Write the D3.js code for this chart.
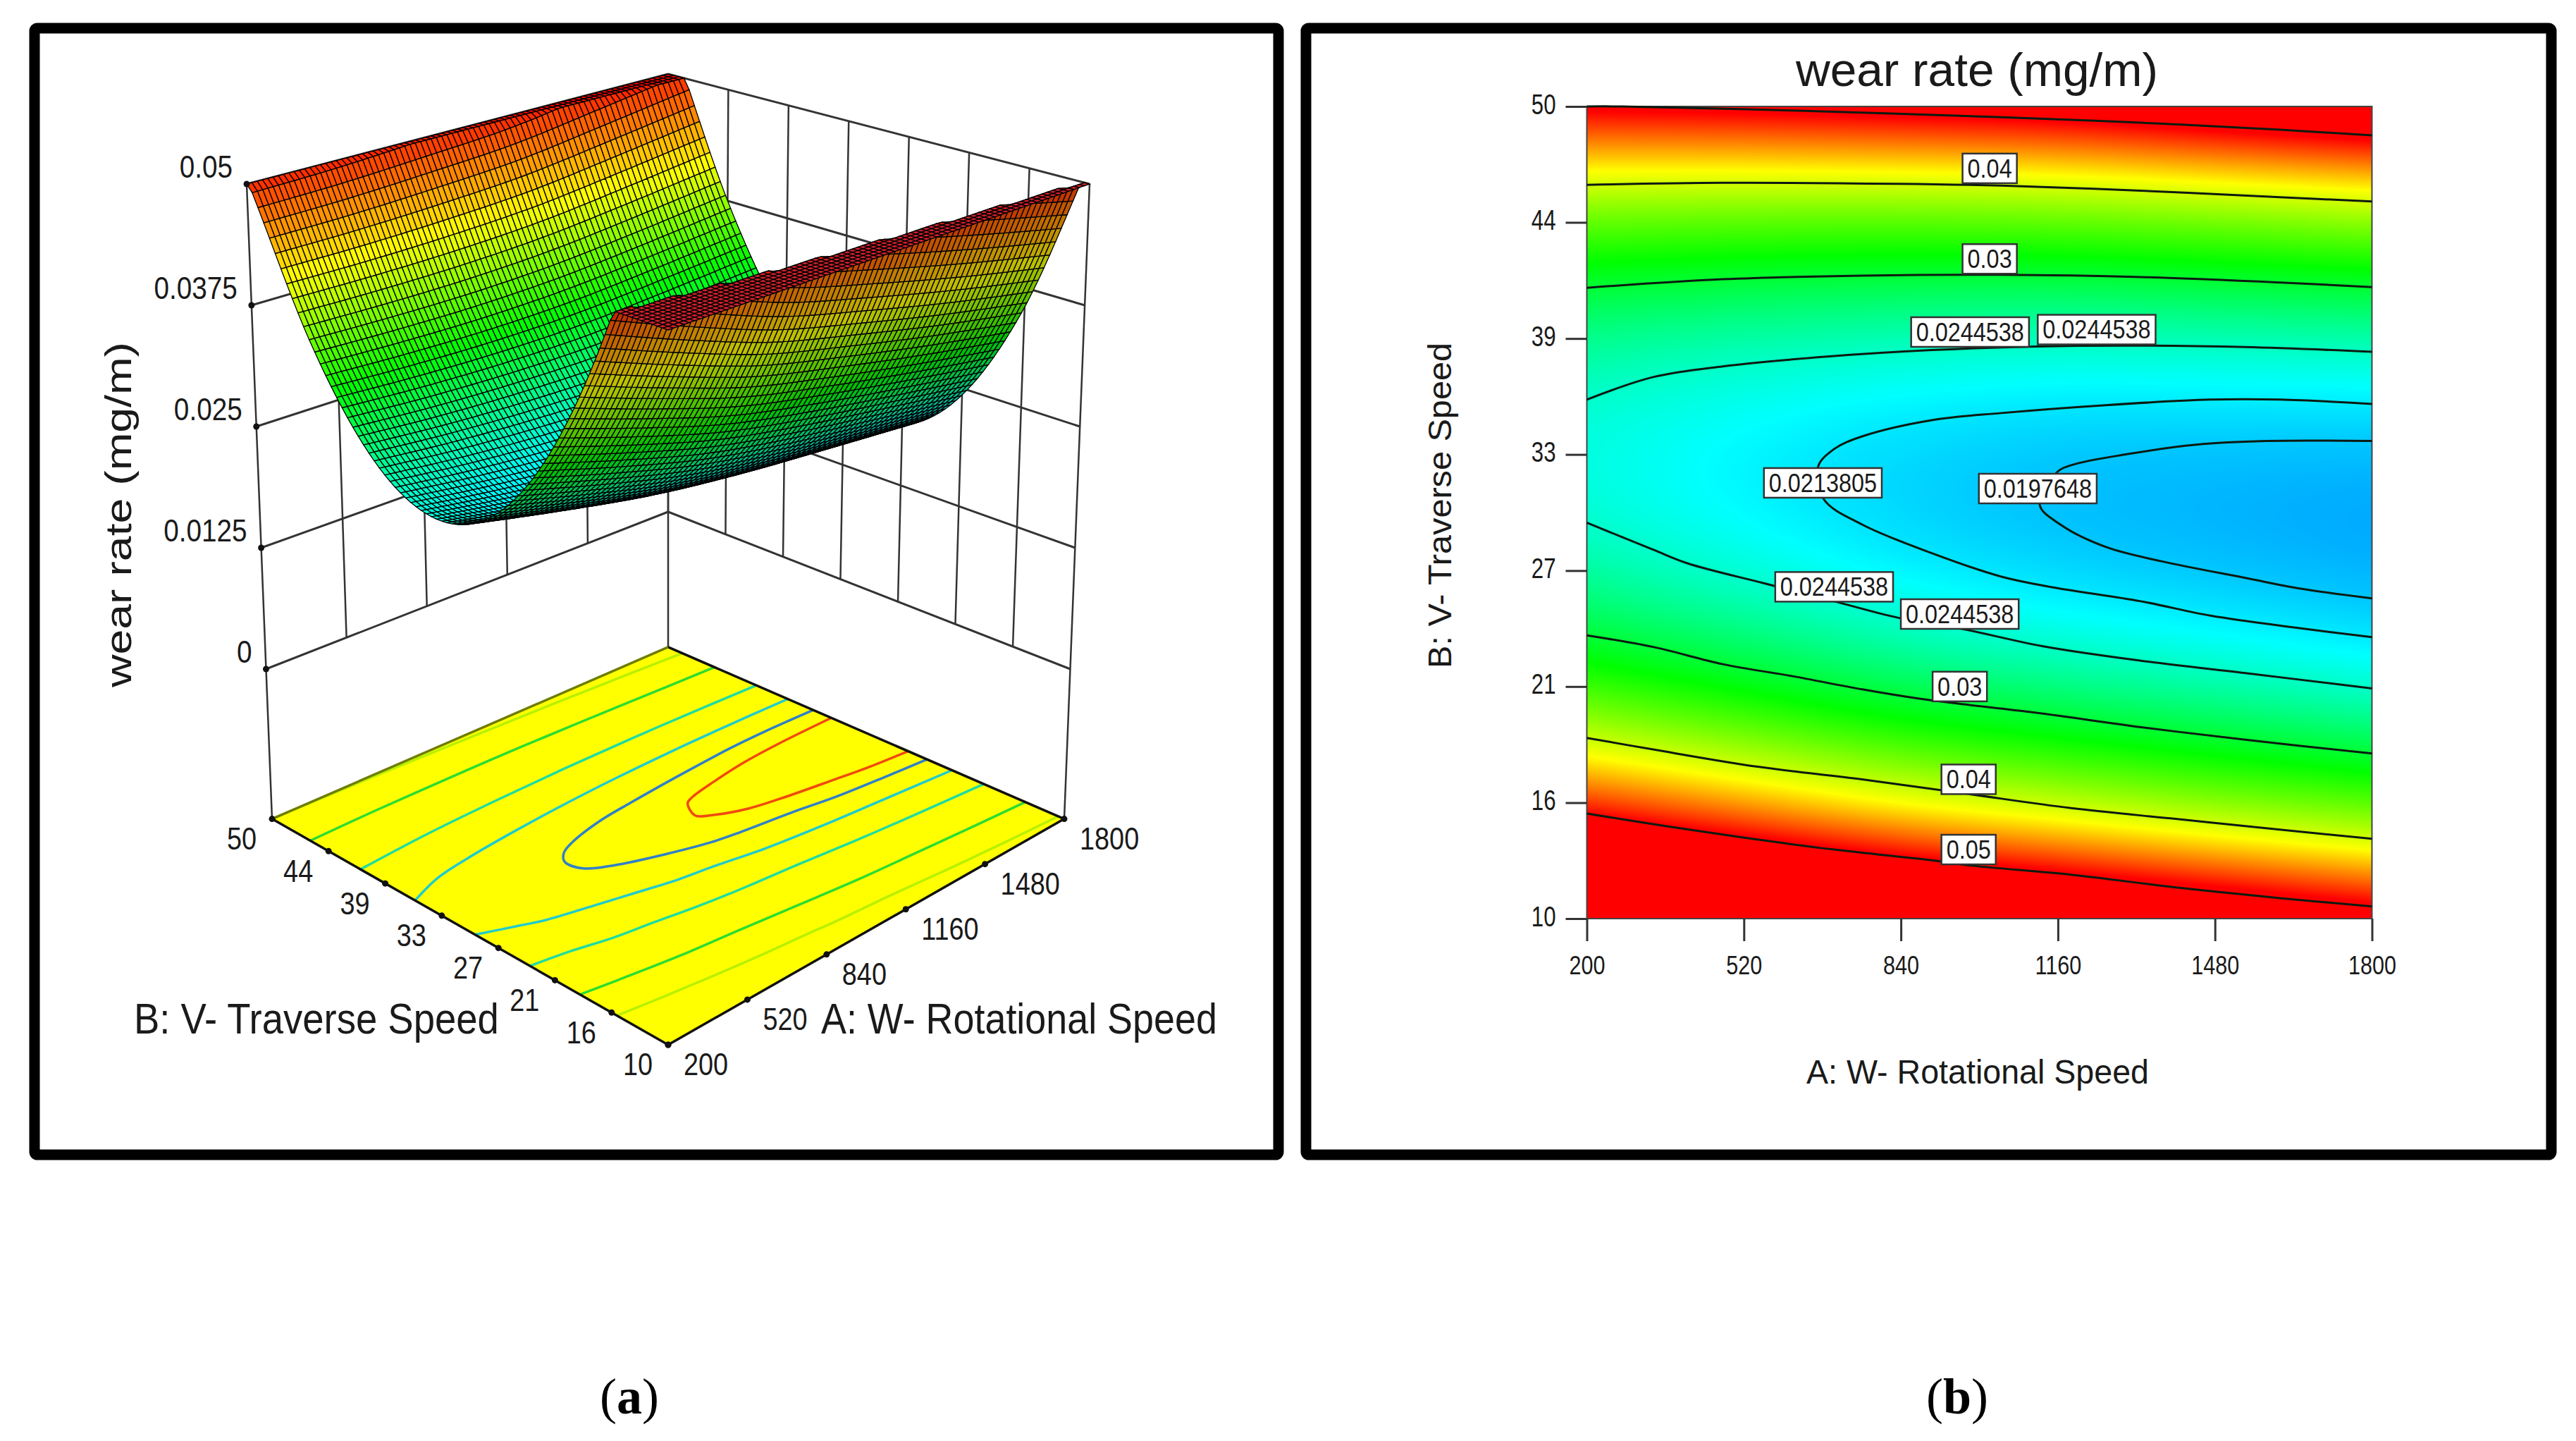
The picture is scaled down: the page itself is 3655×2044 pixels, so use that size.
<!DOCTYPE html>
<html>
<head>
<meta charset="utf-8">
<script src="https://cdn.jsdelivr.net/npm/d3@7"></script>
<style>
  html, body { margin: 0; background: #fff; }
  svg { display: block; }
  text { font-family: "Liberation Sans", Arial, sans-serif; fill: #1a1a1a; }
</style>
</head>
<body>
<svg id="chart" width="3655" height="2044" viewBox="0 0 3655 2044"></svg>
<script>
// axes
const wTicks = [200, 520, 840, 1160, 1480, 1800];
const vTicks = [10, 15.71, 21.43, 27.14, 32.86, 38.57, 44.29, 50];
const vTickLabels = ["10", "16", "21", "27", "33", "39", "44", "50"];
const zTicks = [0, 0.0125, 0.025, 0.0375, 0.05];
const zTickLabels = ["0", "0.0125", "0.025", "0.0375", "0.05"];

// wear rate read at each tick crossing, one array per W tick, V ascending
const z200 = [0.0683, 0.0484, 0.0343, 0.026, 0.0235, 0.0267, 0.0358, 0.0506];
const z520 = [0.0643, 0.0451, 0.0316, 0.0239, 0.022, 0.0258, 0.0355, 0.0509];
const z840 = [0.0607, 0.042, 0.0291, 0.022, 0.0207, 0.0252, 0.0354, 0.0515];
const z1160 = [0.0578, 0.0397, 0.0273, 0.0207, 0.0199, 0.0249, 0.0357, 0.0522];
const z1480 = [0.0551, 0.0375, 0.0258, 0.0198, 0.0196, 0.0252, 0.0365, 0.0537];
const z1800 = [0.0524, 0.0355, 0.0243, 0.019, 0.0194, 0.0256, 0.0375, 0.0553];

// contour lines, [W, V]
const c05top = [[200, 50], [271, 50], [633, 49.79], [1045, 49.47], [1329, 49.2], [1613, 48.85], [1800, 48.58]];
const c04top = [[200, 46.14], [477, 46.24], [832, 46.19], [1045, 46.1], [1329, 45.85], [1613, 45.53], [1800, 45.32]];
const c03top = [[200, 41.07], [477, 41.49], [761, 41.67], [1045, 41.71], [1329, 41.6], [1613, 41.33], [1800, 41.1]];
const c0244top = [[200, 35.56], [335, 36.67], [477, 37.2], [690, 37.68], [903, 38], [1116, 38.18], [1329, 38.22], [1542, 38.15], [1800, 37.92]];
const c0214 = [[1800, 35.35], [1613, 35.56], [1471, 35.56], [1258, 35.29], [1045, 34.9], [903, 34.55], [761, 33.75], [704, 33.13], [671, 32.24], [683, 30.65], [761, 29.41], [903, 28], [1045, 26.84], [1144, 26.34], [1329, 25.63], [1471, 24.92], [1655, 24.3], [1800, 23.86]];
const c0198 = [[1800, 33.52], [1584, 33.52], [1442, 33.34], [1300, 32.87], [1187, 32.33], [1158, 31.98], [1123, 30.38], [1165, 29.41], [1258, 28.3], [1371, 27.6], [1542, 26.78], [1655, 26.25], [1800, 25.77]];
const c0244low = [[200, 29.5], [335, 28.17], [406, 27.49], [562, 26.51], [704, 25.63], [832, 24.83], [959, 24.3], [1130, 23.41], [1329, 22.7], [1542, 22.09], [1800, 21.34]];
const c03low = [[200, 23.95], [335, 23.38], [477, 22.53], [619, 21.94], [761, 21.29], [875, 20.84], [959, 20.58], [1116, 20.14], [1329, 19.43], [1542, 18.81], [1800, 18.13]];
const c04low = [[200, 18.9], [335, 18.33], [548, 17.48], [761, 16.86], [974, 16.15], [1187, 15.44], [1400, 14.91], [1612, 14.38], [1800, 13.93]];
const c05low = [[200, 15.17], [363, 14.55], [519, 13.99], [704, 13.4], [903, 12.87], [988, 12.6], [1187, 12.16], [1400, 11.54], [1612, 11.01], [1800, 10.6]];

// contour labels: text, W, V
const labelText = ["0.04", "0.03", "0.0244538", "0.0244538", "0.0213805", "0.0197648", "0.0244538", "0.0244538", "0.03", "0.04", "0.05"];
const labelW = [1021, 1021, 981, 1239, 681, 1119, 704, 960, 960, 978, 978];
const labelV = [46.95, 42.49, 38.89, 39.01, 31.46, 31.18, 26.34, 25, 21.43, 16.86, 13.4];

const zByW = [z200, z520, z840, z1160, z1480, z1800];
const floorLines = [
  { pts: c05top, color: "#b8f000" }, { pts: c04top, color: "#2cdc30" },
  { pts: c03top, color: "#20dca0" }, { pts: c0244top, color: "#20cccc" },
  { pts: c0214, color: "#3080c8" }, { pts: c0198, color: "#f04a10" },
  { pts: c0244low, color: "#20cccc" }, { pts: c03low, color: "#20dca0" },
  { pts: c04low, color: "#2cdc30" }, { pts: c05low, color: "#b8f000" },
];

const colorStops = ["#0000ff", "#00ffff", "#00ff00", "#ffff00", "#ff0000"];
const color = d3
  .scaleLinear()
  .domain([0.0107, 0.0223, 0.032, 0.042, 0.05])
  .range(colorStops)
  .clamp(true);
// the 3D panel stays orange a little longer near the top
const meshColor = d3
  .scaleLinear()
  .domain([0.0107, 0.0223, 0.032, 0.0415, 0.052])
  .range(colorStops)
  .clamp(true);

const svg = d3.select("#chart");

// squeeze text to a fraction of its natural width, the source font is narrow
function squeeze(sel, f) {
  sel.each(function() {
    d3.select(this)
      .attr("textLength", this.getComputedTextLength() * f)
      .attr("lengthAdjust", "spacingAndGlyphs");
  });
}

// same thing with a transform, for labels that sit close to their neighbours
function fitWidth(sel, px, py, target) {
  sel.each(function() {
    const f = target / this.getComputedTextLength();
    d3.select(this).attr("transform", `translate(${px},${py}) scale(${f},1)`);
  });
}

function cubic(p0, p1, p2, p3, t) {
  return (
    p1 +
    0.5 * t * (p2 - p0 + t * (2 * p0 - 5 * p1 + 4 * p2 - p3 + t * (3 * (p1 - p2) + p3 - p0)))
  );
}

function at(arr, idx) {
  const n = arr.length;
  const i = Math.min(Math.floor(idx), n - 2);
  const t = idx - i;
  const p0 = i > 0 ? arr[i - 1] : 2 * arr[0] - arr[1];
  const p3 = i < n - 2 ? arr[i + 2] : 2 * arr[n - 1] - arr[n - 2];
  return cubic(p0, arr[i], arr[i + 1], p3, t);
}

const wIdx = d3.scaleLinear().domain(wTicks).range(d3.range(wTicks.length));
const vIdx = d3.scaleLinear().domain(vTicks).range(d3.range(vTicks.length));

function rate(w, v) {
  const vi = vIdx(v);
  return at(zByW.map((col) => at(col, vi)), wIdx(w));
}

function frame(x, y, w, h) {
  svg
    .append("rect")
    .attr("x", x)
    .attr("y", y)
    .attr("width", w)
    .attr("height", h)
    .attr("rx", 4)
    .attr("fill", "none")
    .attr("stroke", "#000")
    .attr("stroke-width", 15);
}

frame(49, 40, 1765, 1598);
frame(1853, 40, 1767, 1598);

// ---- panel a, 3D surface ----
const uScale = d3.scaleLinear().domain([200, 1800]).range([0, 1]);
const vScale = d3.scaleLinear().domain([10, 50]).range([0, 1]);
// screen position of the box corners against wear rate
const halfWidth = d3.scaleLinear().domain([0, 0.05]).range([570.5, 598]);
const frontY = d3.scaleLinear().domain([0, 0.05]).range([1242.6, 468]);
const sideY = d3.scaleLinear().domain([0, 0.05]).range([949, 261]);
const backY = d3.scaleLinear().domain([0, 0.05]).range([726, 105]);
const zFloor = -0.01545;

function project(w, v, z) {
  const u = uScale(w);
  const b = vScale(v);
  const f = frontY(z);
  const s = sideY(z);
  const k = backY(z);
  return [948 + halfWidth(z) * (u - b), f + (s - f) * (u + b) + (f - 2 * s + k) * u * b];
}

const a = svg.append("g");
const wall = (p, q, width = 3) =>
  a
    .append("line")
    .attr("x1", p[0])
    .attr("y1", p[1])
    .attr("x2", q[0])
    .attr("y2", q[1])
    .attr("stroke", "#333")
    .attr("stroke-width", width);

zTicks.forEach((z) => {
  wall(project(200, 50, z), project(1800, 50, z));
  wall(project(1800, 50, z), project(1800, 10, z));
});
wTicks.forEach((w) => {
  wall(project(w, 50, w === 200 || w === 1800 ? zFloor : 0), project(w, 50, 0.05), 2.5);
});
vTicks.forEach((v) => {
  wall(project(1800, v, v === 10 ? zFloor : 0), project(1800, v, 0.05), 2.5);
});

// floor with projected contours
const floorPath = d3.line();
a.append("path")
  .attr("d", floorPath([
    project(200, 10, zFloor),
    project(1800, 10, zFloor),
    project(1800, 50, zFloor),
    project(200, 50, zFloor),
  ]) + "Z")
  .attr("fill", "#ffff00");

const floorCurve = d3.line().curve(d3.curveCatmullRom);
a.selectAll("path.floor-line")
  .data(floorLines)
  .join("path")
  .attr("class", "floor-line")
  .attr("d", (d) => floorCurve(d.pts.map((p) => project(p[0], p[1], zFloor))))
  .attr("fill", "none")
  .attr("stroke", (d) => d.color)
  .attr("stroke-width", 3.5);

const edge = (p, q, c) =>
  a.append("line")
    .attr("x1", p[0]).attr("y1", p[1])
    .attr("x2", q[0]).attr("y2", q[1])
    .attr("stroke", c)
    .attr("stroke-width", 3.5);
edge(project(200, 50, zFloor), project(200, 10, zFloor), "#111");
edge(project(200, 10, zFloor), project(1800, 10, zFloor), "#111");
edge(project(1800, 50, zFloor), project(1800, 10, zFloor), "#111");
edge(project(200, 50, zFloor), project(1800, 50, zFloor), "#6f7d00");

// surface mesh, painted from the back corner to the front corner
const wGrid = d3.range(81).map((i) => 200 + i * 20);
const vGrid = d3.range(81).map((i) => 10 + i * 0.5);
const quads = [];
for (let i = 0; i < wGrid.length - 1; ++i) {
  for (let j = 0; j < vGrid.length - 1; ++j) {
    const corners = [[i, j], [i + 1, j], [i + 1, j + 1], [i, j + 1]].map(([ci, cj]) => {
      const z = rate(wGrid[ci], vGrid[cj]);
      return { z, p: project(wGrid[ci], vGrid[cj], Math.min(z, 0.05)) };
    });
    quads.push({ order: i + j, corners, low: vGrid[j] < 30 });
  }
}
quads.sort((p, q) => q.order - p.order);

function quadFill(d) {
  const c = d.corners;
  const zMean = d3.mean(c, (e) => e.z);
  if (d.low && d3.min(c, (e) => e.z) >= 0.05) return "#d0202c";
  const cross =
    (c[2].p[0] - c[0].p[0]) * (c[3].p[1] - c[1].p[1]) -
    (c[2].p[1] - c[0].p[1]) * (c[3].p[0] - c[1].p[0]);
  return cross > 0 ? d3.rgb(meshColor(zMean)).darker(0.8).formatHex() : meshColor(zMean);
}

a.selectAll("path.cell")
  .data(quads)
  .join("path")
  .attr("class", "cell")
  .attr("d", (d) => floorPath(d.corners.map((e) => e.p)) + "Z")
  .attr("fill", quadFill)
  .attr("stroke", "#000")
  .attr("stroke-width", 1.35);

// tick dots and labels
const dot = (p) => a.append("circle").attr("cx", p[0]).attr("cy", p[1]).attr("r", 4.5).attr("fill", "#111");
zTicks.forEach((z, i) => {
  const p = project(200, 50, z);
  dot(p);
  a.append("text")
    .attr("x", p[0] - 20)
    .attr("y", p[1] - 24)
    .attr("dy", "0.35em")
    .attr("text-anchor", "end")
    .attr("font-size", 44)
    .text(zTickLabels[i])
    .call(squeeze, 0.88);
});
vTicks.forEach((v, i) => {
  const p = project(200, v, zFloor);
  dot(p);
  a.append("text")
    .attr("x", p[0] - 22)
    .attr("y", p[1] + 28)
    .attr("dy", "0.35em")
    .attr("text-anchor", "end")
    .attr("font-size", 44)
    .text(vTickLabels[i])
    .call(squeeze, 0.86);
});
wTicks.forEach((w) => {
  const p = project(w, 10, zFloor);
  dot(p);
  a.append("text")
    .attr("x", p[0] + 22)
    .attr("y", p[1] + 28)
    .attr("dy", "0.35em")
    .attr("font-size", 44)
    .text(w)
    .call(squeeze, 0.86);
});

a.append("text")
  .attr("transform", "translate(186,730) rotate(-90)")
  .attr("text-anchor", "middle")
  .attr("font-size", 52)
  .attr("textLength", 490)
  .attr("lengthAdjust", "spacingAndGlyphs")
  .text("wear rate (mg/m)");
a.append("text")
  .attr("font-size", 62)
  .text("B: V- Traverse Speed")
  .call(fitWidth, 190, 1466, 518);
a.append("text")
  .attr("font-size", 62)
  .text("A: W- Rotational Speed")
  .call(fitWidth, 1165, 1466, 562);

// ---- panel b, contour plot ----
const plot = { left: 2251.5, right: 3365.5, top: 151, bottom: 1303 };
const x = d3.scaleLinear().domain([200, 1800]).range([plot.left, plot.right]);
const y = d3.scaleLinear().domain([10, 50]).range([plot.bottom, plot.top]);

const cw = Math.round(plot.right - plot.left);
const ch = plot.bottom - plot.top;
const canvas = document.createElement("canvas");
canvas.width = cw;
canvas.height = ch;
const ctx = canvas.getContext("2d");
const img = ctx.createImageData(cw, ch);
const lut = d3.range(1024).map((i) => d3.rgb(color(0.01 + (i / 1023) * 0.045)));
for (let px = 0; px < cw; ++px) {
  const wi = wIdx(x.invert(plot.left + px));
  const col = vTicks.map((_, r) => at(zByW.map((c) => c[r]), wi));
  for (let py = 0; py < ch; ++py) {
    const zv = at(col, vIdx(y.invert(plot.top + py)));
    const c = lut[Math.max(0, Math.min(1023, Math.round(((zv - 0.01) / 0.045) * 1023)))];
    const o = (py * cw + px) * 4;
    img.data[o] = c.r;
    img.data[o + 1] = c.g;
    img.data[o + 2] = c.b;
    img.data[o + 3] = 255;
  }
}
ctx.putImageData(img, 0, 0);

const b = svg.append("g");
b.append("image")
  .attr("x", plot.left)
  .attr("y", plot.top)
  .attr("width", cw)
  .attr("height", ch)
  .attr("href", canvas.toDataURL());

b.append("rect")
  .attr("x", plot.left)
  .attr("y", plot.top)
  .attr("width", cw)
  .attr("height", ch)
  .attr("fill", "none")
  .attr("stroke", "#444")
  .attr("stroke-width", 2);

const contourLine = d3
  .line()
  .x((d) => x(d[0]))
  .y((d) => y(d[1]))
  .curve(d3.curveCatmullRom);

b.selectAll("path.contour")
  .data(floorLines)
  .join("path")
  .attr("class", "contour")
  .attr("d", (d) => contourLine(d.pts))
  .attr("fill", "none")
  .attr("stroke", "#0c1a10")
  .attr("stroke-width", 3);

const xAxis = b
  .append("g")
  .attr("transform", `translate(0,${plot.bottom})`)
  .call(d3.axisBottom(x).tickValues(wTicks).tickFormat(d3.format("d")).tickSize(32).tickPadding(21));
const yAxis = b
  .append("g")
  .attr("transform", `translate(${plot.left},0)`)
  .call(
    d3
      .axisLeft(y)
      .tickValues(vTicks)
      .tickFormat((d, i) => vTickLabels[i])
      .tickSize(30)
      .tickPadding(14)
  );
[xAxis, yAxis].forEach((g) => {
  g.select(".domain").remove();
  g.selectAll(".tick line").attr("stroke", "#333").attr("stroke-width", 3);
});
xAxis.selectAll("text").attr("font-size", 36).attr("font-family", null).call(squeeze, 0.85);
yAxis.selectAll("text").attr("font-size", 40).attr("font-family", null).attr("dy", "0.25em").call(squeeze, 0.78);

labelText.forEach((t, i) => {
  const g = b.append("g").attr("transform", `translate(${x(labelW[i])},${y(labelV[i])})`);
  const r = g.append("rect").attr("fill", "#fff").attr("stroke", "#333").attr("stroke-width", 2.5);
  const txt = g
    .append("text")
    .attr("text-anchor", "middle")
    .attr("dy", "0.36em")
    .attr("font-size", 36)
    .text(t)
    .call(squeeze, 0.9);
  const w = txt.node().getComputedTextLength() + 14;
  r.attr("x", -w / 2).attr("y", -21).attr("width", w).attr("height", 42);
});

b.append("text")
  .attr("x", 2805)
  .attr("y", 122)
  .attr("text-anchor", "middle")
  .attr("font-size", 66)
  .attr("textLength", 514)
  .attr("lengthAdjust", "spacingAndGlyphs")
  .text("wear rate (mg/m)");
b.append("text")
  .attr("x", 2806)
  .attr("y", 1537)
  .attr("text-anchor", "middle")
  .attr("font-size", 48)
  .attr("textLength", 486)
  .attr("lengthAdjust", "spacingAndGlyphs")
  .text("A: W- Rotational Speed");
b.append("text")
  .attr("transform", "translate(2059,717) rotate(-90)")
  .attr("text-anchor", "middle")
  .attr("font-size", 46)
  .attr("textLength", 462)
  .attr("lengthAdjust", "spacingAndGlyphs")
  .text("B: V- Traverse Speed");

// captions
[["a", 893], ["b", 2777]].forEach(([letter, cx]) => {
  const t = svg
    .append("text")
    .attr("x", cx)
    .attr("y", 2005)
    .attr("text-anchor", "middle")
    .attr("font-size", 72)
    .style("font-family", '"Liberation Serif", serif')
    .style("fill", "#000");
  t.append("tspan").text("(");
  t.append("tspan").attr("font-weight", "bold").text(letter);
  t.append("tspan").text(")");
});
</script>
</body>
</html>
